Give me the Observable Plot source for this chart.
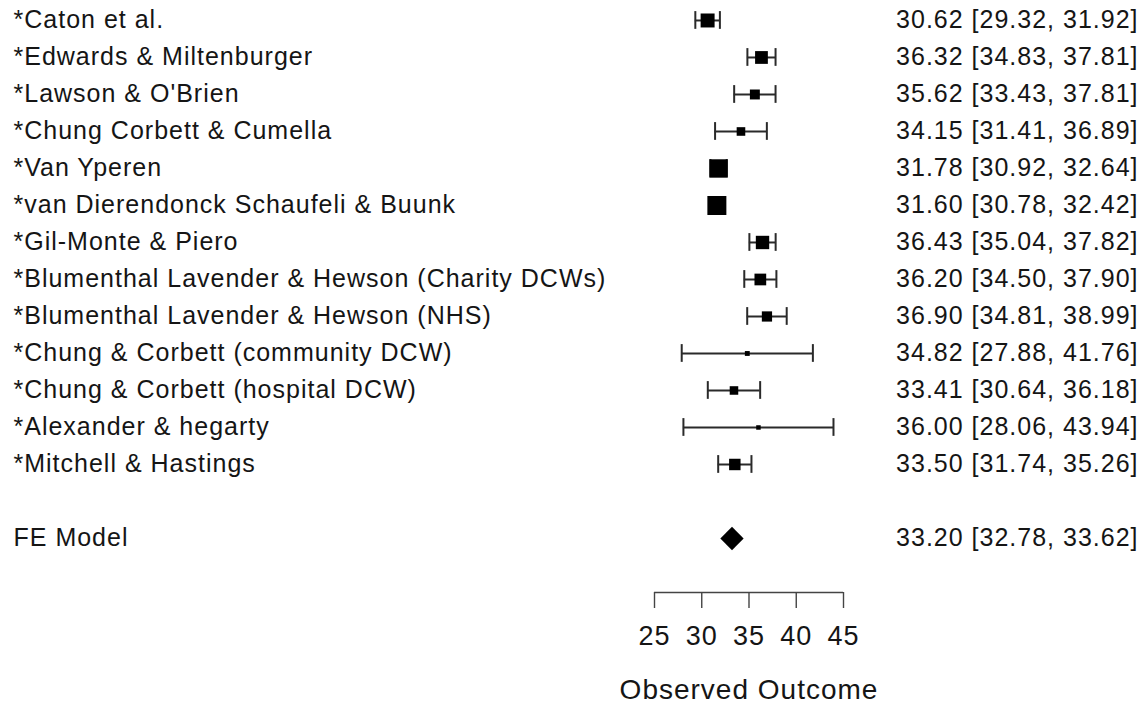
<!DOCTYPE html>
<html>
<head>
<meta charset="utf-8">
<script src="https://cdn.jsdelivr.net/npm/d3@7"></script>
<script src="https://cdn.jsdelivr.net/npm/@observablehq/plot@0.6"></script>
<style>
  html, body { margin: 0; padding: 0; background: #fff; }
  #chart svg { display: block; }
  #chart svg text { letter-spacing: 1px; fill: #151515; }
</style>
</head>
<body>
<div id="chart"></div>
<script>
// Study labels, point estimates and 95% confidence limits
const studies = [
  "*Caton et al.",
  "*Edwards & Miltenburger",
  "*Lawson & O'Brien",
  "*Chung Corbett & Cumella",
  "*Van Yperen",
  "*van Dierendonck Schaufeli & Buunk",
  "*Gil-Monte & Piero",
  "*Blumenthal Lavender & Hewson (Charity DCWs)",
  "*Blumenthal Lavender & Hewson (NHS)",
  "*Chung & Corbett (community DCW)",
  "*Chung & Corbett (hospital DCW)",
  "*Alexander & hegarty",
  "*Mitchell & Hastings"
];
const estimates = [30.62, 36.32, 35.62, 34.15, 31.78, 31.60, 36.43, 36.20, 36.90, 34.82, 33.41, 36.00, 33.50];
const lower     = [29.32, 34.83, 33.43, 31.41, 30.92, 30.78, 35.04, 34.50, 34.81, 27.88, 30.64, 28.06, 31.74];
const upper     = [31.92, 37.81, 37.81, 36.89, 32.64, 32.42, 37.82, 37.90, 38.99, 41.76, 36.18, 43.94, 35.26];

// Fixed-effect pooled estimate
const summaryLabel = "FE Model";
const summaryEstimate = 33.20;
const summaryLower = 32.78;
const summaryUpper = 33.62;

// Axis
const xTicks = [25, 30, 35, 40, 45];
const xLabel = "Observed Outcome";

const fmt = d3.format(".2f");
const ci = d => `${fmt(d.est)} [${fmt(d.lo)}, ${fmt(d.hi)}]`;

// One row per study; inverse-variance weight from the CI width
const rows = studies.map((name, i) => {
  const se = (upper[i] - lower[i]) / (2 * 1.959964);
  return {name, est: estimates[i], lo: lower[i], hi: upper[i], row: i, w: 1 / (se * se)};
});
const pooled = {name: summaryLabel, est: summaryEstimate, lo: summaryLower, hi: summaryUpper, row: studies.length + 1};
const all = [...rows, pooled];

const yTop = -0.54;
const yBottom = studies.length + 2.46;   // axis line sits at the frame bottom
const cap = 0.24;                         // half height of CI end caps, in rows

const tickMin = d3.min(xTicks), tickMax = d3.max(xTicks);

const chart = Plot.plot({
  width: 1148,
  height: 706,
  marginLeft: 654,
  marginRight: 305,
  marginTop: 0,
  marginBottom: 114,
  style: {fontFamily: "'Liberation Sans', Arial, Helvetica, sans-serif", background: "#fff"},
  x: {domain: [tickMin, tickMax]},
  y: {domain: [yTop, yBottom], reverse: true, axis: null},
  r: {type: "pow", exponent: 0.35, domain: d3.extent(rows, d => d.w), range: [4.5 / Math.sqrt(Math.PI), 19 / Math.sqrt(Math.PI)]},
  marks: [
    // confidence intervals with end caps
    Plot.ruleY(rows, {y: "row", x1: "lo", x2: "hi", stroke: "#2a2a2a", strokeWidth: 2}),
    Plot.ruleX(rows, {x: "lo", y1: d => d.row - cap, y2: d => d.row + cap, stroke: "#2a2a2a", strokeWidth: 2}),
    Plot.ruleX(rows, {x: "hi", y1: d => d.row - cap, y2: d => d.row + cap, stroke: "#2a2a2a", strokeWidth: 2}),
    // study estimates, sized by weight
    Plot.dot(rows, {x: "est", y: "row", r: "w", symbol: "square", fill: "#000", stroke: null}),
    // pooled estimate
    Plot.dot([pooled], {x: "est", y: "row", r: 10.5, symbol: "diamond2", fill: "#000", stroke: null}),
    // study labels (left) and estimate [CI] (right)
    Plot.text(all, {y: "row", text: "name", frameAnchor: "left", textAnchor: "start", dx: -641, fontSize: 25}),
    Plot.text(all, {y: "row", text: ci, frameAnchor: "right", textAnchor: "end", dx: 295, fontSize: 25}),
    // axis
    Plot.ruleY([yBottom], {x1: tickMin, x2: tickMax, stroke: "#444", strokeWidth: 1.4}),
    Plot.axisX({ticks: xTicks, tickSize: 16, tickPadding: 17, fontSize: 27, stroke: "#444", strokeWidth: 1.4, label: null}),
    Plot.text([xLabel], {x: d3.mean([tickMin, tickMax]), frameAnchor: "bottom", lineAnchor: "middle", dy: 98, fontSize: 28, text: d => d})
  ]
});

document.getElementById("chart").appendChild(chart);
</script>
</body>
</html>
